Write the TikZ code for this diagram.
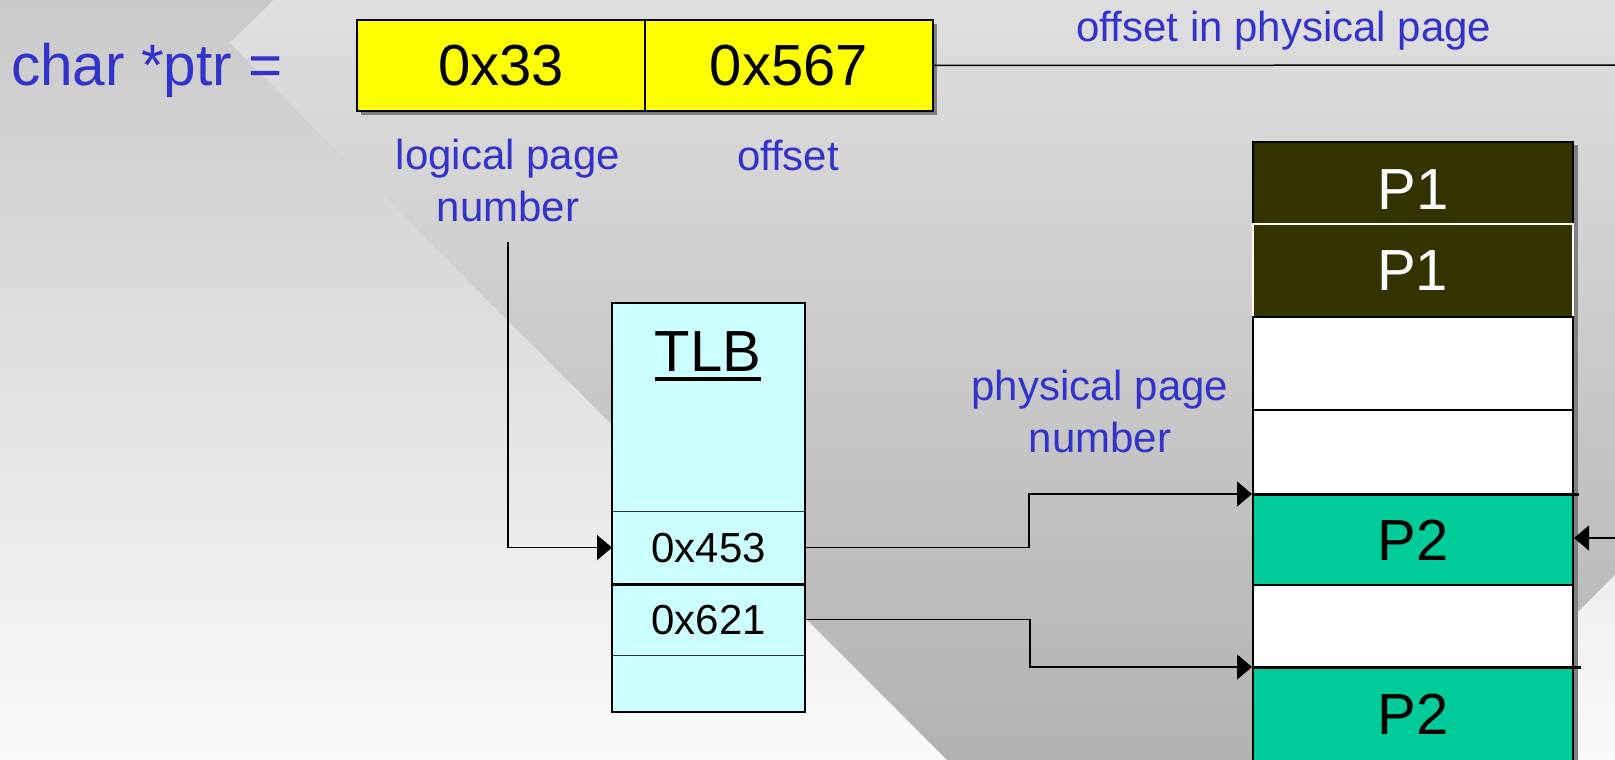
\documentclass[tikz,border=0pt]{standalone}
\usepackage{fontspec}
\setmainfont{Liberation Sans}
\usetikzlibrary{arrows.meta}
\definecolor{lblue}{RGB}{51,51,204}
\definecolor{tlbcyan}{RGB}{204,255,255}
\definecolor{pdark}{RGB}{51,51,0}
\definecolor{pgreen}{RGB}{0,204,153}
\definecolor{pyellow}{RGB}{255,255,0}
\definecolor{ltop}{RGB}{201,201,201}
\definecolor{lbot}{RGB}{250,250,250}
\definecolor{btop}{RGB}{223,223,223}
\definecolor{bbot}{RGB}{178,178,178}
\definecolor{brtop}{RGB}{238,238,238}
\definecolor{shadowgray}{RGB}{128,128,128}
\begin{document}
\begin{tikzpicture}[x=1pt,y=-1pt,
  lbl/.style={text=lblue, font=\fontsize{42}{51.5}\selectfont, inner sep=0pt, align=center},
  ybox/.style={draw=black, line width=2pt, fill=pyellow, minimum width=288pt, minimum height=91pt, anchor=north west, inner sep=0pt, font=\fontsize{58}{58}\selectfont},
  tlbcell/.style={draw=black!80, line width=1.2pt, fill=tlbcyan, minimum width=192pt, anchor=north west, inner sep=0pt, font=\fontsize{42}{42}\selectfont},
  memcell/.style={draw=black, line width=2pt, minimum width=320pt, anchor=north west, inner sep=0pt, font=\fontsize{58}{58}\selectfont},
  arr/.style={line width=1.5pt, -{Triangle[length=15pt, width=25pt]}}
]
\useasboundingbox (0,0) rectangle (1615,760);
% background
\shade[top color=ltop, bottom color=lbot] (0,0) -- (274,0) -- (230,43) -- (947,760) -- (0,760) -- cycle;
\shade[top color=btop, bottom color=bbot] (274,0) -- (1615,0) -- (1615,575) -- (1430,760) -- (947,760) -- (230,43) -- cycle;
\shade[top color=brtop, bottom color=lbot] (1615,575) -- (1615,760) -- (1430,760) -- cycle;

% pointer
\node[lbl, anchor=base west, font=\fontsize{58.5}{58.5}\selectfont] (ptr) at (11,85) {char *ptr =};
\fill[shadowgray] (361,24) rectangle (937,115);
\node[ybox] (lp) at (356,19) {0x33};
\node[ybox] (off) at (644,19) {0x567};
\coordinate (offend) at (1615,65);
\draw[line width=1.5pt] (off.east) -- (offend);
\node[lbl, anchor=base] (offin) at (1284,42) {offset in physical page};
\node[lbl, anchor=base] (offlbl) at (788,170) {offset};
\node[lbl, anchor=south] (lpn) at (508,222) {logical page\\number};
\node[lbl, anchor=south] (ppn) at (1100,453) {physical page\\number};

% TLB
\node[tlbcell, minimum height=208pt] (thead) at (612,303) {};
\node[tlbcell, minimum height=72pt] (r453) at (612,511) {0x453};
\node[tlbcell, minimum height=72pt] (r621) at (612,583) {0x621};
\node[tlbcell, minimum height=56pt] (rend) at (612,655) {};
\draw[line width=2.8pt] (r453.south west) -- (r453.south east);
\draw[line width=2pt] (thead.north west) rectangle (rend.south east);
\node[inner sep=0pt, anchor=base, font=\fontsize{58}{58}\selectfont] (tlbtitle) at (708,371) {TLB};
\draw[line width=4pt] ([yshift=-8pt]tlbtitle.base west) -- ([yshift=-8pt]tlbtitle.base east);

% memory
\fill[shadowgray] (1572,145) rectangle (1578,760);
\node[memcell, fill=pdark, text=white, minimum height=82pt, text height=52pt] (m1) at (1252,141) {P1};
\node[memcell, fill=pdark, text=white, draw=white, line width=1.5pt, minimum height=93pt] (m2) at (1252,223) {P1};
\node[memcell, fill=white, minimum height=93pt] (m3) at (1252,316) {};
\node[memcell, fill=white, minimum height=85pt] (m4) at (1252,409) {};
\node[memcell, fill=pgreen, minimum height=90pt] (m5) at (1252,494) {P2};
\node[memcell, fill=white, minimum height=83pt] (m6) at (1252,584) {};
\node[memcell, fill=pgreen, minimum height=93pt] (m7) at (1252,667) {P2};
\draw[line width=3pt] (m5.north west) -- ([xshift=5pt]m5.north east);
\draw[line width=3pt] (m7.north west) -- ([xshift=7pt]m7.north east);

% connectors
\draw[arr] ([yshift=-20pt]lpn.south) |- (r453.west);
\draw[arr] (r453.east) -- ([xshift=224pt]r453.east) |- (m5.north west);
\draw[arr] (r621.east) -- ([xshift=225pt]r621.east) |- (m7.north west);
\coordinate (rin) at (1615,538);
\draw[arr] (rin) -- (rin -| m5.east);
\end{tikzpicture}
\end{document}
